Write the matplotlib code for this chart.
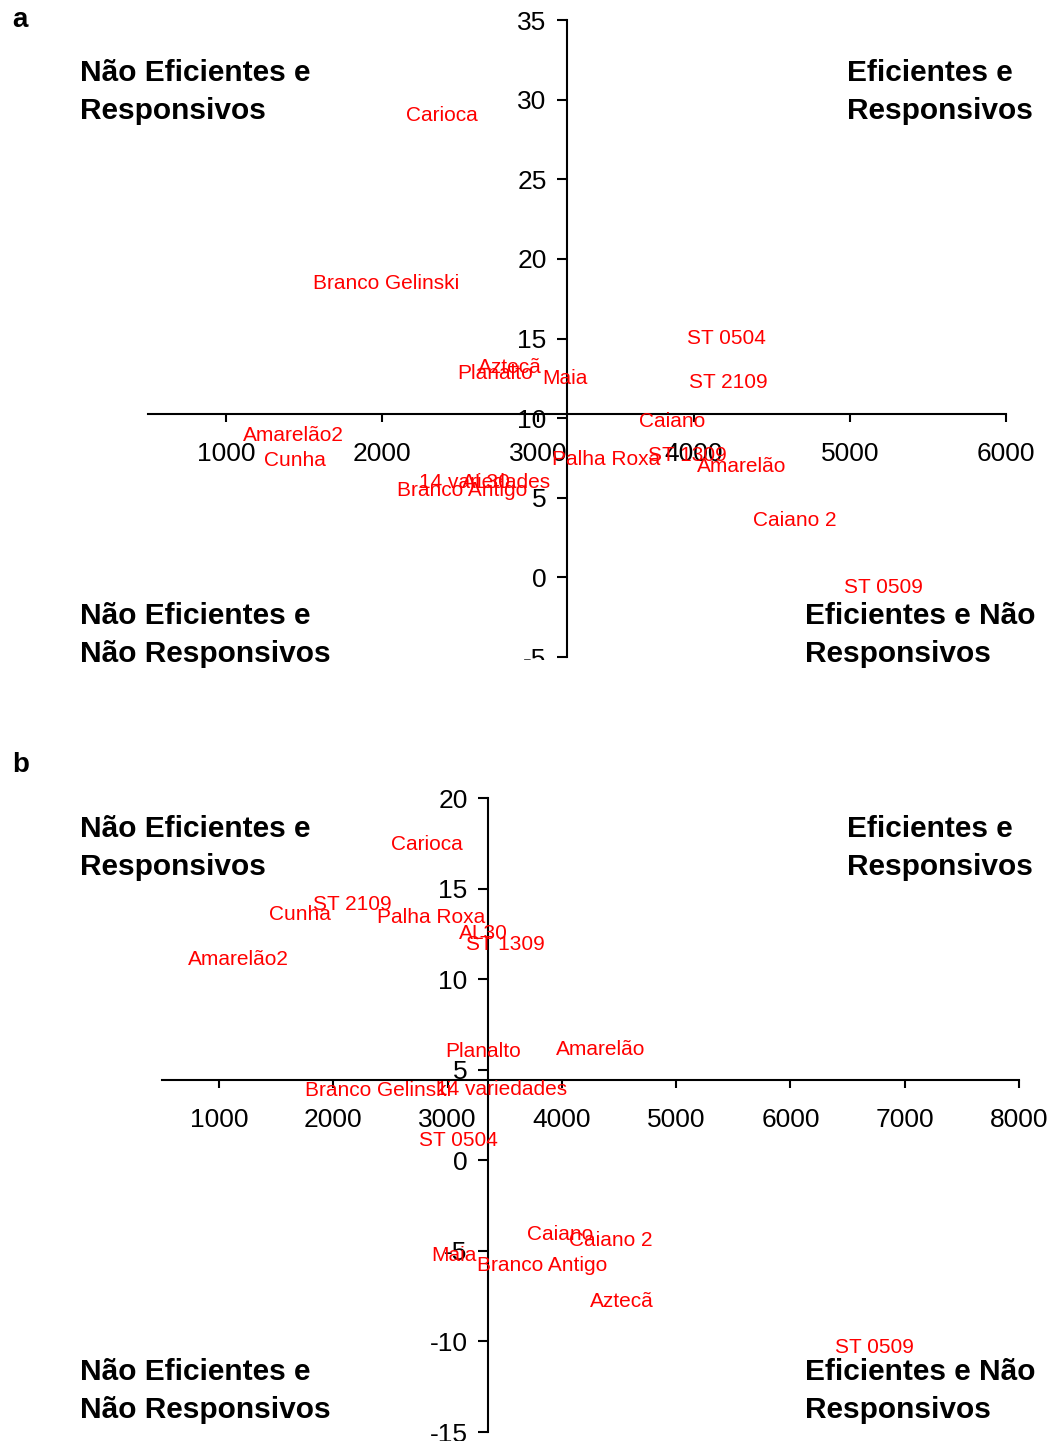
import numpy as np
import matplotlib.pyplot as plt
from matplotlib.patches import Rectangle

plt.rcParams['font.family'] = ['Liberation Sans', 'DejaVu Sans']
plt.rcParams['axes.unicode_minus'] = False

# painel a
nomes_a = ["Carioca", "Branco Gelinski", "Aztecã", "Planalto", "Maia", "ST 0504",
           "ST 2109", "Caiano", "Amarelão2", "Cunha", "Palha Roxa", "ST 1309",
           "Amarelão", "14 variedades", "AL30", "Branco Antigo", "Caiano 2", "ST 0509"]
x_a = [2120, 1523, 2582, 2447, 2993, 3917, 3930, 3609, 1074, 1209, 3051, 3667,
       3981, 2203, 2479, 2062, 4341, 4925]
y_a = [29.0, 18.45, 13.17, 12.8, 12.48, 14.99, 12.23, 9.78, 8.9, 7.33, 7.4, 7.65,
       6.96, 5.95, 5.95, 5.45, 3.57, -0.64]
cruz_a = (3189, 10.26)

# painel b
nomes_b = ["Carioca", "Cunha", "ST 2109", "Palha Roxa", "AL30", "ST 1309", "Amarelão2",
           "Planalto", "Amarelão", "Branco Gelinski", "14 variedades", "ST 0504",
           "Caiano", "Caiano 2", "Maia", "Branco Antigo", "Aztecã", "ST 0509"]
x_b = [2459, 1390, 1775, 2336, 3054, 3116, 680, 2932, 3896, 1705, 2853, 2704,
       3650, 4009, 2809, 3212, 4193, 6340]
y_b = [17.42, 13.55, 14.1, 13.39, 12.5, 11.9, 11.07, 5.99, 6.1, 3.84, 3.89, 1.07,
       -4.11, -4.45, -5.27, -5.83, -7.81, -10.35]
cruz_b = (3357, 4.43)

W, H = 1051, 1441
fig = plt.figure(figsize=(W / 100, H / 100), dpi=100)


def px_box(x0, x1, ytop, ybot):
    return [x0 / W, 1 - ybot / H, (x1 - x0) / W, (ybot - ytop) / H]


def painel(ax, xs, ys, nomes, cruz, xlim, ylim, xticks, yticks):
    ax.set_xlim(*xlim)
    ax.set_ylim(*ylim)
    ax.patch.set_visible(False)
    for s in ["top", "right"]:
        ax.spines[s].set_visible(False)
    ax.spines["left"].set_position(("data", cruz[0]))
    ax.spines["bottom"].set_position(("data", cruz[1]))
    for s in ["left", "bottom"]:
        ax.spines[s].set_linewidth(1.5)
    ax.set_xticks(xticks)
    ax.set_yticks(yticks)
    ax.tick_params(axis="x", direction="out", length=6, width=1.5, labelsize=19, pad=14)
    ax.tick_params(axis="y", direction="out", length=7, width=1.5, labelsize=19, pad=8)
    for nome, x, y in zip(nomes, xs, ys):
        ax.annotate(nome, (x, y), xytext=(4, 0), textcoords="offset points",
                    ha="left", va="center", color="red", fontsize=15)


ax1 = fig.add_axes(px_box(148, 1006, 20, 657))
painel(ax1, x_a, y_a, nomes_a, cruz_a, (500, 6000), (-5, 35),
       range(1000, 7000, 1000), range(-5, 40, 5))

ax2 = fig.add_axes(px_box(162, 1019, 798, 1432))
painel(ax2, x_b, y_b, nomes_b, cruz_b, (500, 8000), (-15, 20),
       range(1000, 9000, 1000), range(-15, 25, 5))

# corta o rótulo -5 como no original
fig.patches.append(Rectangle((500 / W, 1 - 690 / H), 70 / W, 30 / H,
                             transform=fig.transFigure, facecolor="white",
                             edgecolor="none", zorder=1))


def quad(x, y, txt):
    fig.text(x / W, 1 - y / H, txt, ha="left", va="center", fontsize=21.5,
             fontweight="bold", linespacing=1.44)


for top in (0, 756):
    quad(80, 92 + top, "Não Eficientes e\nResponsivos")
    quad(847, 92 + top, "Eficientes e\nResponsivos")
    quad(80, 635 + top, "Não Eficientes e\nNão Responsivos")
    quad(805, 635 + top, "Eficientes e Não\nResponsivos")

fig.text(12 / W, 1 - 20 / H, "a", fontsize=20, fontweight="bold", va="center")
fig.text(12 / W, 1 - 765 / H, "b", fontsize=20, fontweight="bold", va="center")

fig.savefig("out.png", dpi=100)
